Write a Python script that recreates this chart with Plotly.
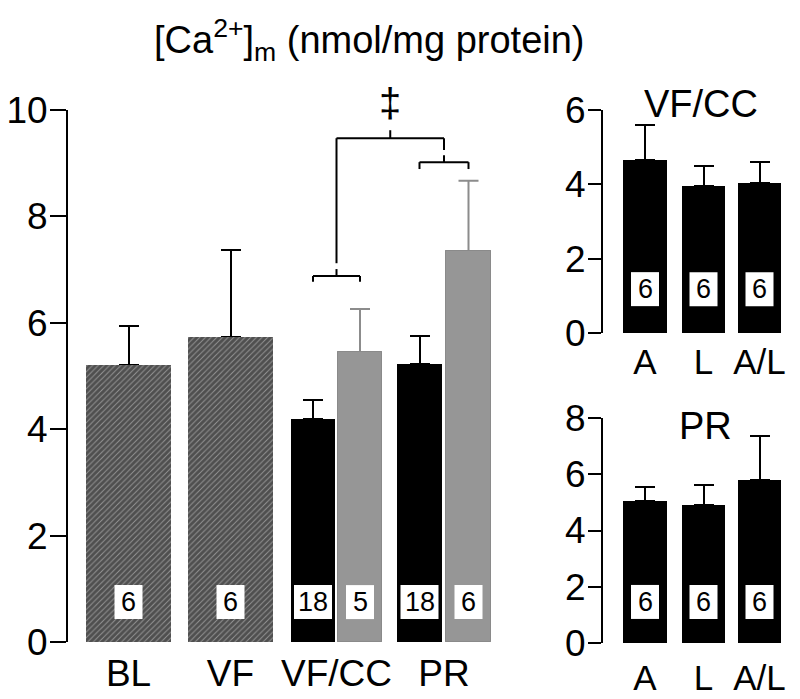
import plotly.graph_objects as go

# ---------------- data ----------------
main_groups = ["BL", "VF", "VF/CC", "PR"]
main_values = [5.20, 5.73, 4.19, 5.45, 5.22, 7.35]
main_err = [0.74, 1.64, 0.36, 0.81, 0.53, 1.32]
main_n = ["6", "6", "18", "5", "18", "6"]

sub_labels = ["A", "L", "A/L"]
vfcc_values = [4.65, 3.95, 4.03]
vfcc_err = [0.94, 0.54, 0.57]
vfcc_n = ["6", "6", "6"]
pr_values = [5.05, 4.91, 5.80]
pr_err = [0.50, 0.71, 1.57]
pr_n = ["6", "6", "6"]

# ---------------- layout helpers (positions in axis units) ----------------
main_pos = [60.5, 162.5, 245, 292, 351.5, 400.5]
main_width = [85, 85, 44, 44, 45, 45]
group_pos = [60.5, 162.5, 268.5, 376]
sub_pos = [42, 100.5, 156.5]
sub_width = [44, 43, 43]

FONT = "Liberation Sans, Arial, sans-serif"
BLACK = "#000000"
GRAY = "#969696"
GRAY_ERR = "#8c8c8c"

fig = go.Figure()

def bar_marker(style):
    if style == "hatch":
        return dict(color="#8f8f8f",
                    pattern=dict(shape="/", fgcolor="#0a0a0a", bgcolor="#959595",
                                 size=4, solidity=0.78),
                    line=dict(width=0))
    if style == "black":
        return dict(color=BLACK, line=dict(width=0))
    return dict(color=GRAY, line=dict(width=1, color="#8a8a8a"))

def bar(idx, style):
    xs = [main_pos[i] for i in idx]
    ys = [main_values[i] for i in idx]
    ws = [main_width[i] for i in idx]
    es = [main_err[i] for i in idx]
    ecol = GRAY_ERR if style == "gray" else BLACK
    fig.add_trace(go.Bar(
        x=xs, y=ys, width=ws, marker=bar_marker(style),
        hoverinfo="skip", showlegend=False,
        error_y=dict(type="data", symmetric=False, array=es,
                     arrayminus=[0] * len(es), color=ecol, thickness=2, width=10),
        xaxis="x", yaxis="y"))
    # same bars again on top, hiding the lower error-bar cap
    fig.add_trace(go.Bar(
        x=xs, y=ys, width=ws, marker=bar_marker(style),
        hoverinfo="skip", showlegend=False, xaxis="x", yaxis="y"))

bar([0, 1], "hatch")
bar([2, 4], "black")
bar([3, 5], "gray")

for vals, errs, xa, ya in [(vfcc_values, vfcc_err, "x2", "y2"),
                           (pr_values, pr_err, "x3", "y3")]:
    fig.add_trace(go.Bar(
        x=sub_pos, y=vals, width=sub_width,
        marker=dict(color=BLACK, line=dict(width=0)),
        hoverinfo="skip", showlegend=False,
        error_y=dict(type="data", symmetric=False, array=errs,
                     arrayminus=[0] * len(errs), color=BLACK, thickness=2, width=10),
        xaxis=xa, yaxis=ya))

shapes = []
annotations = []

def nbox(x, y, label, xref, yref):
    w = 28 if len(label) == 1 else 38
    shapes.append(dict(type="rect", xref=xref, yref=yref,
                       xsizemode="pixel", ysizemode="pixel",
                       xanchor=x, yanchor=y, x0=-w / 2, x1=w / 2, y0=-17, y1=17,
                       fillcolor="white", line=dict(width=0), layer="above"))
    annotations.append(dict(x=x, y=y, xref=xref, yref=yref, text=label,
                            showarrow=False, xanchor="center", yanchor="middle",
                            font=dict(size=27, color="black", family=FONT)))

for p, n in zip(main_pos, main_n):
    nbox(p, 0.75, n, "x", "y")
for p, n in zip(sub_pos, vfcc_n):
    nbox(p, 1.18, n, "x2", "y2")
for p, n in zip(sub_pos, pr_n):
    nbox(p, 1.46, n, "x3", "y3")

# significance brackets
def seg(x0, y0, x1, y1):
    shapes.append(dict(type="line", xref="x", yref="y", x0=x0, y0=y0, x1=x1, y1=y1,
                       line=dict(color="black", width=2)))

seg(main_pos[2], 6.77, main_pos[2], 6.88)
seg(main_pos[2], 6.88, main_pos[3], 6.88)
seg(main_pos[3], 6.88, main_pos[3], 6.77)
seg(group_pos[2], 6.88, group_pos[2], 7.01)
seg(main_pos[4], 8.89, main_pos[4], 9.02)
seg(main_pos[4], 9.02, main_pos[5], 9.02)
seg(main_pos[5], 9.02, main_pos[5], 8.89)
seg(group_pos[3], 9.02, group_pos[3], 9.15)
seg(group_pos[2], 7.12, group_pos[2], 9.47)
seg(group_pos[2], 9.47, group_pos[3], 9.47)
seg(group_pos[3], 9.47, group_pos[3], 9.25)
mid = (group_pos[2] + group_pos[3]) / 2
seg(mid, 9.47, mid, 9.62)
annotations.append(dict(x=mid, y=1 - 103 / 699, xref="x", yref="paper", text="‡",
                        showarrow=False, xanchor="center", yanchor="middle",
                        font=dict(size=40, color="black", family=FONT)))

# titles
annotations.append(dict(x=369 / 800, y=1 - 40 / 699, xref="paper", yref="paper",
                        text="[Ca<sup>2+</sup>]<sub>m</sub> (nmol/mg protein)",
                        showarrow=False, xanchor="center", yanchor="middle",
                        font=dict(size=38, color="black", family=FONT)))
annotations.append(dict(x=701 / 800, y=1 - 104 / 699, xref="paper", yref="paper",
                        text="VF/CC", showarrow=False, xanchor="center", yanchor="middle",
                        font=dict(size=38, color="black", family=FONT)))
annotations.append(dict(x=705 / 800, y=1 - 426 / 699, xref="paper", yref="paper",
                        text="PR", showarrow=False, xanchor="center", yanchor="middle",
                        font=dict(size=38, color="black", family=FONT)))

xcommon = dict(showgrid=False, zeroline=False, showline=False, ticks="",
               automargin=False, fixedrange=True)
ycommon = dict(showgrid=False, zeroline=False, showline=True, linewidth=2,
               linecolor="black", ticks="outside", tickwidth=2, tickcolor="black",
               automargin=False, ticklabelstandoff=-5,
               tickfont=dict(size=37, color="black", family=FONT), fixedrange=True)

fig.update_layout(
    width=800, height=699, margin=dict(l=0, r=0, t=0, b=0, autoexpand=False),
    paper_bgcolor="white", plot_bgcolor="white", bargap=0, barmode="overlay",
    xaxis=dict(domain=[68 / 800, 500 / 800], range=[0, 432], anchor="y",
               tickvals=group_pos, ticktext=main_groups, ticklabelstandoff=6,
               tickfont=dict(size=37, color="black", family=FONT), **xcommon),
    yaxis=dict(domain=[1 - 642 / 699, 1 - 110 / 699], range=[0, 10], anchor="x",
               tickvals=[0, 2, 4, 6, 8, 10], ticklen=16, **ycommon),
    xaxis2=dict(domain=[603 / 800, 1.0], range=[0, 197], anchor="y2",
                tickvals=sub_pos, ticktext=sub_labels, ticklabelstandoff=5,
                tickfont=dict(size=35, color="black", family=FONT), **xcommon),
    yaxis2=dict(domain=[1 - 333 / 699, 1 - 110 / 699], range=[0, 6], anchor="x2",
                tickvals=[0, 2, 4, 6], ticklen=13, **ycommon),
    xaxis3=dict(domain=[603 / 800, 1.0], range=[0, 197], anchor="y3",
                tickvals=sub_pos, ticktext=sub_labels, ticklabelstandoff=11,
                tickfont=dict(size=35, color="black", family=FONT), **xcommon),
    yaxis3=dict(domain=[1 - 643 / 699, 1 - 418 / 699], range=[0, 8], anchor="x3",
                tickvals=[0, 2, 4, 6, 8], ticklen=13, **ycommon),
    shapes=shapes, annotations=annotations,
)

fig.write_html("out.html", config={"displayModeBar": False},
               post_script="document.body.style.margin='0px';"
                           "document.body.style.overflow='hidden';")
